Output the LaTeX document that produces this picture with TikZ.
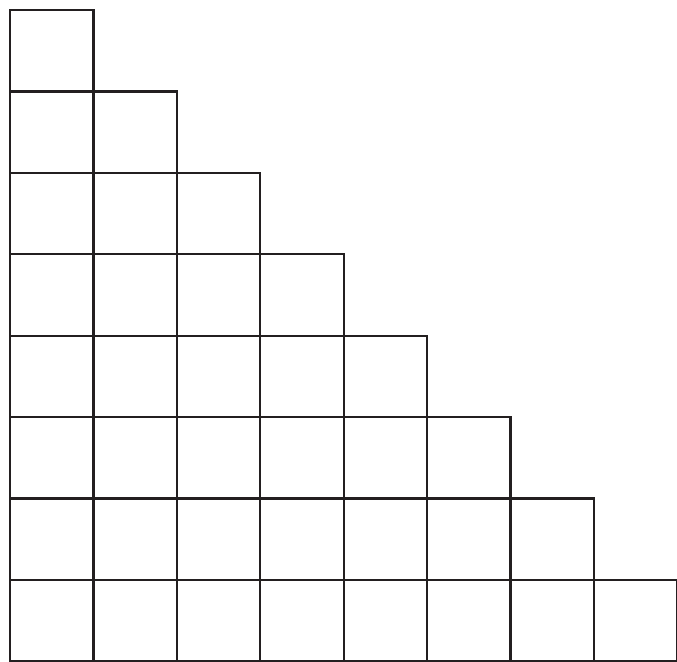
\documentclass[tikz,border=0pt]{standalone}
\usetikzlibrary{positioning}
\definecolor{GridInk}{RGB}{35,31,32}
\tikzset{
  cellbox/.style={draw=GridInk,line width=1.3pt,minimum width=1.668cm,
    minimum height=1.628cm,inner sep=0pt,anchor=north west}
}
\begin{document}
\begin{tikzpicture}

\useasboundingbox (0,0) rectangle (13.54,13.22);

% staircase of cells, row r holds r cells
\foreach \r in {1,...,8}{
  \foreach \c in {1,...,\r}{
    \node[cellbox] (cell-\r-\c) at ({0.18+(\c-1)*1.668},{13.04-(\r-1)*1.628}) {};
  }
}

\end{tikzpicture}
\end{document}
